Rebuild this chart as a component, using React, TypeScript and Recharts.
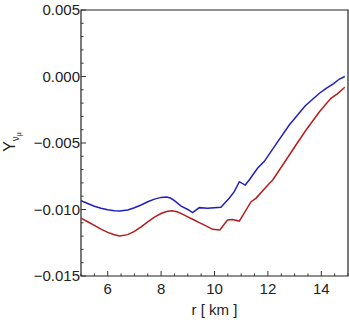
import React from 'react';
import { LineChart, Line, XAxis, YAxis, ReferenceArea } from 'recharts';

// radius [km] and Y values
const blueR = [5.0, 5.25, 5.5, 5.75, 6.0, 6.25, 6.45, 6.75, 7.0, 7.25, 7.5, 7.75, 8.0, 8.2, 8.35, 8.5, 8.75, 9.0, 9.18, 9.43, 9.74, 10.24, 10.55, 10.74, 10.93, 11.15, 11.3, 11.61, 11.86, 12.3, 12.8, 13.4, 13.93, 14.18, 14.45, 14.68, 14.88];
const blueY = [-0.00934, -0.00955, -0.00975, -0.0099, -0.01002, -0.01009, -0.01011, -0.01004, -0.00987, -0.00966, -0.00942, -0.00922, -0.00909, -0.00906, -0.00914, -0.00934, -0.00974, -0.01, -0.01024, -0.00986, -0.00991, -0.00984, -0.00916, -0.00866, -0.00791, -0.00816, -0.00778, -0.0069, -0.0064, -0.0051, -0.00365, -0.0022, -0.00126, -0.00089, -0.00055, -0.00019, 0.0];

const redR = [5.0, 5.25, 5.5, 5.75, 6.0, 6.25, 6.45, 6.75, 7.0, 7.25, 7.5, 7.75, 8.0, 8.2, 8.4, 8.6, 8.8, 9.0, 9.2, 9.43, 9.7, 9.93, 10.2, 10.49, 10.68, 10.93, 11.37, 11.55, 12.0, 12.18, 12.68, 13.0, 13.43, 13.93, 14.36, 14.6, 14.88];
const redY = [-0.01066, -0.01092, -0.0112, -0.01148, -0.01172, -0.0119, -0.01199, -0.01189, -0.01165, -0.01131, -0.01093, -0.01058, -0.0103, -0.01015, -0.0101, -0.01017, -0.01035, -0.01055, -0.01075, -0.01099, -0.01125, -0.01149, -0.01154, -0.01079, -0.01075, -0.01087, -0.00941, -0.00916, -0.00816, -0.00778, -0.00628, -0.0053, -0.00402, -0.00265, -0.00164, -0.0013, -0.00081];

const xTicks = [5, 5.5, 6, 6.5, 7, 7.5, 8, 8.5, 9, 9.5, 10, 10.5, 11, 11.5, 12, 12.5, 13, 13.5, 14, 14.5, 15];
const xMajorTicks = [6, 8, 10, 12, 14];
const yTicks = [-0.015, -0.014, -0.013, -0.012, -0.011, -0.01, -0.009, -0.008, -0.007, -0.006, -0.005, -0.004, -0.003, -0.002, -0.001, 0, 0.001, 0.002, 0.003, 0.004, 0.005];
const yMajorTicks = [-0.015, -0.01, -0.005, 0, 0.005];
const yTickLabels = ['\u22120.015', '\u22120.010', '\u22120.005', '0.000', '0.005'];

const blueData = blueR.map((r, i) => ({ r, y: blueY[i] }));
const redData = redR.map((r, i) => ({ r, y: redY[i] }));

const FONT = '"Liberation Sans", Arial, sans-serif';
const majorIndex = (v: number, majors: number[]) => majors.findIndex((m) => Math.abs(m - v) < 1e-9);

const BottomTick = ({ x, y, payload }: any) => {
  const major = majorIndex(payload.value, xMajorTicks) >= 0;
  return (
    <g>
      <line x1={x} x2={x} y1={y} y2={y - (major ? 5 : 2.5)} stroke="#333" />
      {major && (
        <text x={x} y={y + 18} textAnchor="middle" fontSize={15} fontFamily={FONT} fill="#222">
          {payload.value}
        </text>
      )}
    </g>
  );
};

const TopTick = ({ x, y, payload }: any) => {
  const major = majorIndex(payload.value, xMajorTicks) >= 0;
  return <line x1={x} x2={x} y1={y} y2={y + (major ? 5 : 2.5)} stroke="#333" />;
};

const LeftTick = ({ x, y, payload }: any) => {
  const idx = majorIndex(payload.value, yMajorTicks);
  return (
    <g>
      <line x1={x} x2={x + (idx >= 0 ? 5 : 2.5)} y1={y} y2={y} stroke="#333" />
      {idx >= 0 && (
        <text x={x - 1} y={y} dy="0.36em" textAnchor="end" fontSize={15} fontFamily={FONT} fill="#222">
          {yTickLabels[idx]}
        </text>
      )}
    </g>
  );
};

const RightTick = ({ x, y, payload }: any) => {
  const major = majorIndex(payload.value, yMajorTicks) >= 0;
  return <line x1={x} x2={x - (major ? 5 : 2.5)} y1={y} y2={y} stroke="#333" />;
};

const XLabel = ({ viewBox }: any) => (
  <text x={viewBox.x + viewBox.width / 2} y={viewBox.y + 39} textAnchor="middle" fontSize={15} fontFamily={FONT} fill="#222">
    r [ km ]
  </text>
);

const YLabel = () => (
  <text transform="translate(15,142) rotate(-90)" textAnchor="middle" fontSize={16} fontFamily={FONT} fill="#222">
    Y
    <tspan fontSize={10} dy={4}>ν</tspan>
    <tspan fontSize={7} dy={2}>μ</tspan>
  </text>
);

export default function App() {
  return (
    <div style={{ position: 'absolute', left: 0, top: 0, width: 349, height: 320 }}>
      <LineChart width={349} height={320} margin={{ top: 10, right: 1, bottom: 0, left: 0 }}>
        <XAxis
          dataKey="r"
          type="number"
          domain={[5, 15]}
          allowDataOverflow
          ticks={xTicks}
          interval={0}
          tickSize={0}
          tickMargin={0}
          axisLine={false}
          tickLine={false}
          tick={<BottomTick />}
          height={44}
          label={<XLabel />}
        />
        <XAxis
          xAxisId="top"
          orientation="top"
          dataKey="r"
          type="number"
          domain={[5, 15]}
          allowDataOverflow
          ticks={xTicks}
          interval={0}
          tickSize={0}
          tickMargin={0}
          axisLine={false}
          tickLine={false}
          tick={<TopTick />}
          height={0}
        />
        <YAxis
          dataKey="y"
          type="number"
          domain={[-0.015, 0.005]}
          allowDataOverflow
          ticks={yTicks}
          interval={0}
          tickSize={0}
          tickMargin={0}
          axisLine={false}
          tickLine={false}
          tick={<LeftTick />}
          width={81}
          label={<YLabel />}
        />
        <YAxis
          yAxisId="right"
          orientation="right"
          dataKey="y"
          type="number"
          domain={[-0.015, 0.005]}
          allowDataOverflow
          ticks={yTicks}
          interval={0}
          tickSize={0}
          tickMargin={0}
          axisLine={false}
          tickLine={false}
          tick={<RightTick />}
          width={0}
        />
        <ReferenceArea x1={5} x2={15} y1={-0.015} y2={0.005} fill="none" stroke="#222" strokeWidth={1.2} ifOverflow="visible" />
        <Line data={redData} dataKey="y" type="linear" stroke="#b71c1c" strokeWidth={1.5} dot={false} isAnimationActive={false} />
        <Line data={blueData} dataKey="y" type="linear" stroke="#1f1fc4" strokeWidth={1.5} dot={false} isAnimationActive={false} />
      </LineChart>
    </div>
  );
}
